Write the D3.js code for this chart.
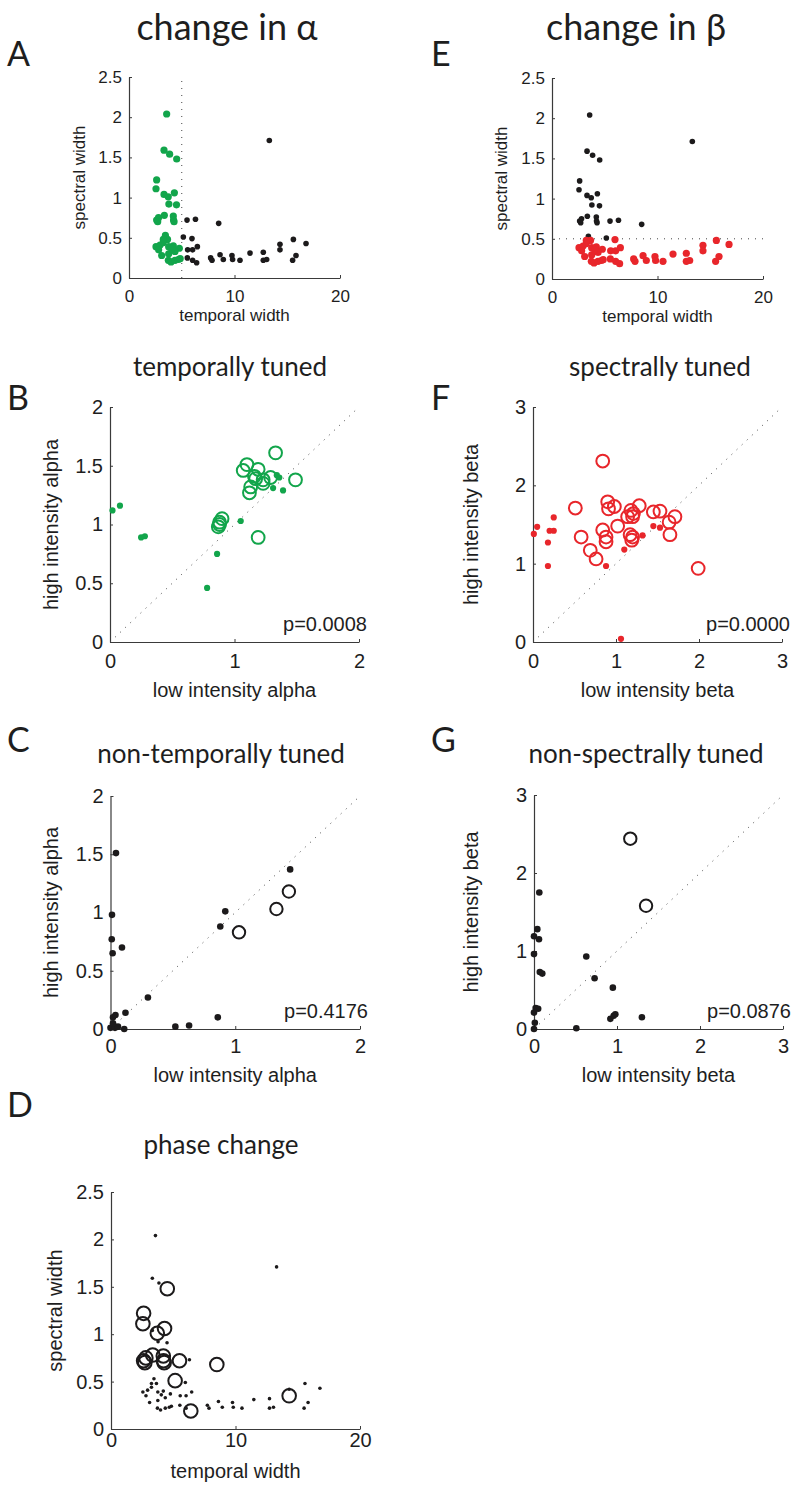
<!DOCTYPE html>
<html>
<head>
<meta charset="utf-8">
<script src="https://cdn.jsdelivr.net/npm/d3@7"></script>
<style>
  body { margin: 0; background: #fff; }
  svg { display: block; }
</style>
</head>
<body>
<script>
// cell widths, shared by panels A, E and D
var temporalWidth = [3.57, 3.32, 3.85, 4.52, 2.62, 2.56, 3.32, 3.72, 4.30, 3.78, 4.50,
    2.62, 2.80, 2.72, 3.35, 4.20, 4.22, 4.27, 5.50, 6.30, 8.50, 3.45, 3.65, 5.15, 5.97,
    2.56, 2.94, 3.25, 3.76, 4.20, 4.77, 3.10, 3.76, 4.36, 3.73, 3.98, 4.36, 4.68, 4.85,
    13.3, 5.56, 6.03, 6.48, 5.53, 6.03, 6.41, 7.74, 7.87, 8.63, 8.94, 9.76, 9.82, 10.52,
    11.47, 12.73, 12.73, 13.05, 14.31, 14.31, 15.58, 15.51, 15.83, 16.78, 2.81, 4.04, 3.25];
var spectralWidth = [2.04, 1.59, 1.54, 1.48, 1.22, 1.11, 1.04, 1.01, 1.06, 0.92, 0.91,
    0.72, 0.75, 0.70, 0.78, 0.77, 0.72, 0.70, 0.72, 0.73, 0.68, 0.53, 0.48, 0.51, 0.49,
    0.39, 0.41, 0.44, 0.39, 0.40, 0.37, 0.28, 0.30, 0.33, 0.22, 0.20, 0.22, 0.23, 0.24,
    1.71, 0.35, 0.35, 0.39, 0.25, 0.22, 0.19, 0.25, 0.22, 0.29, 0.23, 0.28, 0.23, 0.22,
    0.31, 0.32, 0.22, 0.23, 0.42, 0.35, 0.48, 0.22, 0.28, 0.43, 0.35, 0.36, 0.48];
// indices of cells with a phase change (open circles in D)
var phaseChangeCells = [3, 4, 5, 7, 8, 11, 12, 13, 14, 15, 16, 17, 18, 20, 23, 45, 58];

var temporalCut = 5;   // dotted line in A
var spectralCut = 0.5; // dotted line in E

// B: temporally tuned
var bFilledLow  = [0.02, 0.08, 0.25, 0.28, 0.86, 0.78, 1.05, 1.31, 1.39, 1.34, 1.36];
var bFilledHigh = [1.12, 1.16, 0.89, 0.90, 0.75, 0.46, 1.03, 1.31, 1.29, 1.42, 1.40];
var bOpenLow  = [1.33, 1.10, 1.07, 1.19, 1.17, 1.23, 1.29, 1.23, 1.13, 1.12, 1.49, 1.19, 0.88, 0.87, 0.90, 0.88, 1.16];
var bOpenHigh = [1.61, 1.51, 1.46, 1.47, 1.39, 1.38, 1.40, 1.35, 1.32, 1.27, 1.38, 0.89, 1.02, 0.98, 1.05, 1.00, 1.41];

// F: spectrally tuned
var fFilledLow  = [0.01, 0.05, 0.18, 0.18, 0.20, 0.25, 0.25, 0.88, 1.10, 1.06, 1.32, 1.45, 1.53];
var fFilledHigh = [1.38, 1.47, 1.27, 0.97, 1.42, 1.42, 1.59, 0.97, 1.18, 0.04, 1.36, 1.48, 1.46];
var fOpenLow  = [0.84, 0.51, 0.58, 0.69, 0.76, 0.84, 0.90, 0.91, 0.98, 0.88, 0.88, 1.02, 1.14,
    1.18, 1.21, 1.20, 1.28, 1.17, 1.20, 1.19, 1.45, 1.53, 1.64, 1.71, 1.65, 1.99];
var fOpenHigh = [2.31, 1.71, 1.34, 1.17, 1.06, 1.43, 1.79, 1.70, 1.73, 1.34, 1.28, 1.48, 1.60,
    1.68, 1.64, 1.60, 1.74, 1.37, 1.34, 1.30, 1.66, 1.67, 1.53, 1.60, 1.37, 0.94];

// C: non-temporally tuned
var cFilledLow  = [0.044, 0.012, 0.01, 0.017, 0.092, 1.44, 0.92, 0.88, 0.30, 0.12, 0.02, 0.04,
    0.0, 0.036, 0.06, 0.11, 0.52, 0.63, 0.86, 0.02];
var cFilledHigh = [1.51, 0.98, 0.77, 0.65, 0.70, 1.37, 1.01, 0.88, 0.27, 0.14, 0.10, 0.12,
    0.01, 0.01, 0.02, 0.0, 0.02, 0.03, 0.10, 0.05];
var cOpenLow  = [1.03, 1.33, 1.43];
var cOpenHigh = [0.83, 1.03, 1.18];

// G: non-spectrally tuned
var gFilledLow  = [0.064, 0.04, 0.0, 0.06, 0.0, 0.07, 0.10, 0.63, 0.73, 0.95, 0.02, 0.05,
    0.0, 0.01, 0.0, 0.51, 0.92, 0.96, 0.98, 1.30];
var gFilledHigh = [1.75, 1.28, 1.19, 1.15, 0.96, 0.73, 0.71, 0.93, 0.65, 0.53, 0.27, 0.26,
    0.21, 0.08, 0.0, 0.01, 0.13, 0.17, 0.19, 0.15];
var gOpenLow  = [1.16, 1.35];
var gOpenHigh = [2.44, 1.58];

var pValues = ["p=0.0008", "p=0.0000", "p=0.4176", "p=0.0876"];
var widthTicksX = [0, 10, 20];
var widthTicksY = [0, 0.5, 1, 1.5, 2, 2.5];

var green = "#12a54b", red = "#e8262b", black = "#1c1a1b";
var tickFont = "'Liberation Sans', Arial, Helvetica, sans-serif";
var titleFont = "Lato, 'Open Sans', sans-serif";

var svg = d3.select("body").append("svg")
    .attr("width", 800)
    .attr("height", 1497);

function zip(a, b) {
    return a.map(function(v, i) { return [v, b[i]]; });
}

// sets up scales + axes for one panel
function makePanel(p) {
    var x = d3.scaleLinear().domain(p.xDomain).range([p.left, p.right]);
    var y = d3.scaleLinear().domain(p.yDomain).range([p.bottom, p.top]);
    var g = svg.append("g");

    var xAxis = d3.axisBottom(x)
        .tickValues(p.xTicks)
        .tickSizeInner(-3).tickSizeOuter(0)
        .tickPadding(p.xPad)
        .tickFormat(d3.format("~g"));
    var yAxis = d3.axisLeft(y)
        .tickValues(p.yTicks)
        .tickSizeInner(-3).tickSizeOuter(0)
        .tickPadding(7)
        .tickFormat(d3.format("~g"));

    [g.append("g").attr("transform", "translate(0," + p.bottom + ")").call(xAxis),
     g.append("g").attr("transform", "translate(" + p.left + ",0)").call(yAxis)]
        .forEach(function(ax) {
            ax.select(".domain").attr("stroke", "#3a3a3a").attr("stroke-width", 1.2);
            ax.selectAll(".tick line").attr("stroke", "#3a3a3a");
            ax.selectAll(".tick text")
                .attr("fill", "#1e1e1e")
                .style("font-family", tickFont)
                .style("font-size", p.tickSize + "px");
        });

    g.append("text")
        .attr("x", (p.left + p.right) / 2)
        .attr("y", p.xLabelY)
        .attr("text-anchor", "middle")
        .style("font-family", tickFont)
        .style("font-size", p.labelSize + "px")
        .attr("fill", "#1e1e1e")
        .text(p.xLabel);

    g.append("text")
        .attr("transform", "translate(" + p.yLabelX + "," + ((p.top + p.bottom) / 2) + ") rotate(-90)")
        .attr("text-anchor", "middle")
        .style("font-family", tickFont)
        .style("font-size", p.labelSize + "px")
        .attr("fill", "#1e1e1e")
        .text(p.yLabel);

    return {g: g, x: x, y: y};
}

function dottedLine(panel, pts) {
    panel.g.append("path")
        .datum(pts)
        .attr("d", d3.line()
            .x(function(d) { return panel.x(d[0]); })
            .y(function(d) { return panel.y(d[1]); }))
        .attr("fill", "none")
        .attr("stroke", "#444")
        .attr("stroke-width", 1)
        .attr("stroke-dasharray", "1,6");
}

function dots(panel, pts, r, color) {
    panel.g.append("g").selectAll("circle")
        .data(pts)
        .enter().append("circle")
        .attr("cx", function(d) { return panel.x(d[0]); })
        .attr("cy", function(d) { return panel.y(d[1]); })
        .attr("r", r)
        .attr("fill", color);
}

function rings(panel, pts, r, color) {
    panel.g.append("g").selectAll("circle")
        .data(pts)
        .enter().append("circle")
        .attr("cx", function(d) { return panel.x(d[0]); })
        .attr("cy", function(d) { return panel.y(d[1]); })
        .attr("r", r)
        .attr("fill", "none")
        .attr("stroke", color)
        .attr("stroke-width", 2);
}

function pLabel(panel, txt) {
    panel.g.append("text")
        .attr("x", panel.x.range()[1] + 8)
        .attr("y", panel.y.range()[0] - 11)
        .attr("text-anchor", "end")
        .style("font-family", tickFont)
        .style("font-size", "20px")
        .attr("fill", "#1e1e1e")
        .text(txt);
}

function heading(txt, x, y, size, anchor) {
    svg.append("text")
        .attr("x", x).attr("y", y)
        .attr("text-anchor", anchor)
        .style("font-family", titleFont)
        .style("font-size", size + "px")
        .attr("fill", "#1e1e1e")
        .text(txt);
}

var cells = zip(temporalWidth, spectralWidth);

// ---- A ----
var pa = makePanel({left: 129, right: 340, top: 77, bottom: 278,
    xDomain: [0, 20], yDomain: [0, 2.5], xTicks: widthTicksX, yTicks: widthTicksY,
    xPad: 12, tickSize: 17, labelSize: 17,
    xLabel: "temporal width", xLabelY: 321, yLabel: "spectral width", yLabelX: 85});
dottedLine(pa, [[temporalCut, 0], [temporalCut, 2.5]]);
dots(pa, cells.filter(function(d) { return d[0] >= temporalCut; }), 2.8, black);
dots(pa, cells.filter(function(d) { return d[0] < temporalCut; }), 3.6, green);

// ---- E ----
var pe = makePanel({left: 552, right: 763, top: 78, bottom: 279,
    xDomain: [0, 20], yDomain: [0, 2.5], xTicks: widthTicksX, yTicks: widthTicksY,
    xPad: 12, tickSize: 17, labelSize: 17,
    xLabel: "temporal width", xLabelY: 322, yLabel: "spectral width", yLabelX: 507});
dottedLine(pe, [[0, spectralCut], [20, spectralCut]]);
dots(pe, cells.filter(function(d) { return d[1] >= spectralCut; }), 2.8, black);
dots(pe, cells.filter(function(d) { return d[1] < spectralCut; }), 3.6, red);

// ---- B ----
var pb = makePanel({left: 110, right: 359, top: 407, bottom: 642,
    xDomain: [0, 2], yDomain: [0, 2], xTicks: [0, 1, 2], yTicks: [0, 0.5, 1, 1.5, 2],
    xPad: 12, tickSize: 20, labelSize: 20,
    xLabel: "low intensity alpha", xLabelY: 697, yLabel: "high intensity alpha", yLabelX: 58});
dottedLine(pb, [[0, 0], [2, 2]]);
dots(pb, zip(bFilledLow, bFilledHigh), 3.1, green);
rings(pb, zip(bOpenLow, bOpenHigh), 6.4, green);
pLabel(pb, pValues[0]);

// ---- F ----
var pf = makePanel({left: 533, right: 782, top: 407, bottom: 642,
    xDomain: [0, 3], yDomain: [0, 3], xTicks: [0, 1, 2, 3], yTicks: [0, 1, 2, 3],
    xPad: 12, tickSize: 20, labelSize: 20,
    xLabel: "low intensity beta", xLabelY: 697, yLabel: "high intensity beta", yLabelX: 478});
dottedLine(pf, [[0, 0], [3, 3]]);
dots(pf, zip(fFilledLow, fFilledHigh), 3.1, red);
rings(pf, zip(fOpenLow, fOpenHigh), 6.4, red);
pLabel(pf, pValues[1]);

// ---- C ----
var pc = makePanel({left: 110.5, right: 360, top: 796, bottom: 1029,
    xDomain: [0, 2], yDomain: [0, 2], xTicks: [0, 1, 2], yTicks: [0, 0.5, 1, 1.5, 2],
    xPad: 10, tickSize: 20, labelSize: 20,
    xLabel: "low intensity alpha", xLabelY: 1082, yLabel: "high intensity alpha", yLabelX: 58});
dottedLine(pc, [[0, 0], [2, 2]]);
dots(pc, zip(cFilledLow, cFilledHigh), 3.3, black);
rings(pc, zip(cOpenLow, cOpenHigh), 6.2, black);
pLabel(pc, pValues[2]);

// ---- G ----
var pg = makePanel({left: 534, right: 783, top: 795, bottom: 1029,
    xDomain: [0, 3], yDomain: [0, 3], xTicks: [0, 1, 2, 3], yTicks: [0, 1, 2, 3],
    xPad: 10, tickSize: 20, labelSize: 20,
    xLabel: "low intensity beta", xLabelY: 1082, yLabel: "high intensity beta", yLabelX: 478});
dottedLine(pg, [[0, 0], [3, 3]]);
dots(pg, zip(gFilledLow, gFilledHigh), 3.3, black);
rings(pg, zip(gOpenLow, gOpenHigh), 6.2, black);
pLabel(pg, pValues[3]);

// ---- D ----
var pd = makePanel({left: 111, right: 360, top: 1192, bottom: 1429,
    xDomain: [0, 20], yDomain: [0, 2.5], xTicks: widthTicksX, yTicks: widthTicksY,
    xPad: 4, tickSize: 20, labelSize: 20,
    xLabel: "temporal width", xLabelY: 1478, yLabel: "spectral width", yLabelX: 62});
dots(pd, cells.filter(function(d, i) { return phaseChangeCells.indexOf(i) < 0; }), 1.8, black);
rings(pd, cells.filter(function(d, i) { return phaseChangeCells.indexOf(i) >= 0; }), 6.8, black);

// headings and panel letters
heading("change in \u03b1", 227, 40, 36, "middle");
heading("change in \u03b2", 636, 40, 36, "middle");
heading("temporally tuned", 230, 376, 26, "middle");
heading("spectrally tuned", 660, 376, 26, "middle");
heading("non-temporally tuned", 221, 763, 26, "middle");
heading("non-spectrally tuned", 646, 763, 26, "middle");
heading("phase change", 221, 1154, 26, "middle");
heading("A", 7, 66, 34, "start");
heading("E", 431, 66, 34, "start");
heading("B", 7, 410, 34, "start");
heading("F", 431, 410, 34, "start");
heading("C", 7, 752, 34, "start");
heading("G", 431, 752, 34, "start");
heading("D", 7, 1117, 34, "start");
</script>
</body>
</html>
